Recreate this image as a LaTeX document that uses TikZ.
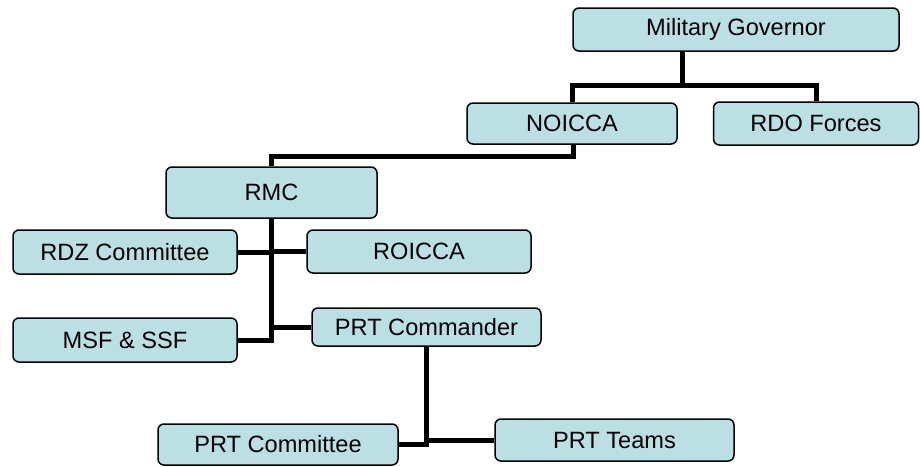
\documentclass[tikz,border=0pt]{standalone}
\usepackage{fontspec}
\setmainfont{Liberation Sans}
\definecolor{boxfill}{RGB}{187,224,227}
\begin{document}
\begin{tikzpicture}[x=1pt,y=-1pt,
  orgbox/.style={draw=black, line width=1.5pt, fill=boxfill, rounded corners=6pt,
    inner sep=0pt, font=\fontsize{23.6}{28}\selectfont, text=black},
  conn/.style={draw=black, line width=5pt}]
\useasboundingbox (0,0) rectangle (920,466);
\node[orgbox, minimum width=326pt, minimum height=43pt] (mg) at (736,29.5) {Military Governor};
\node[orgbox, minimum width=210pt, minimum height=41pt] (noicca) at (572,123.5) {NOICCA};
\node[orgbox, minimum width=205pt, minimum height=43pt] (rdo) at (816,123.5) {RDO Forces};
\node[orgbox, minimum width=211pt, minimum height=51pt] (rmc) at (271.5,192.5) {RMC};
\node[orgbox, minimum width=224pt, minimum height=44pt] (rdz) at (125,252) {RDZ Committee};
\node[orgbox, minimum width=224pt, minimum height=43pt] (roicca) at (419,251.5) {ROICCA};
\node[orgbox, minimum width=224pt, minimum height=44pt] (msf) at (125,340) {MSF \& SSF};
\node[orgbox, minimum width=229pt, minimum height=38pt] (prtc) at (426.5,327) {PRT Commander};
\node[orgbox, minimum width=240pt, minimum height=41pt] (committee) at (278,444.5) {PRT Committee};
\node[orgbox, minimum width=239pt, minimum height=42pt] (teams) at (614.5,440) {PRT Teams};
\coordinate (j1) at (682,85);
\coordinate (j2) at (573,156);
\draw[conn] (mg.south -| j1) -- (j1) -| (noicca.north);
\draw[conn] (j1) -| (rdo.north);
\draw[conn] (noicca.south -| j2) -- (j2) -| (rmc.north);
\draw[conn] (rmc.south) |- (rdz.east);
\draw[conn] (rmc.south) |- (roicca.west);
\draw[conn] (rmc.south) |- (msf.east);
\draw[conn] (rmc.south) |- (prtc.west);
\draw[conn] (prtc.south) |- (committee.east);
\draw[conn] (prtc.south) |- (teams.west);
\end{tikzpicture}
\end{document}
